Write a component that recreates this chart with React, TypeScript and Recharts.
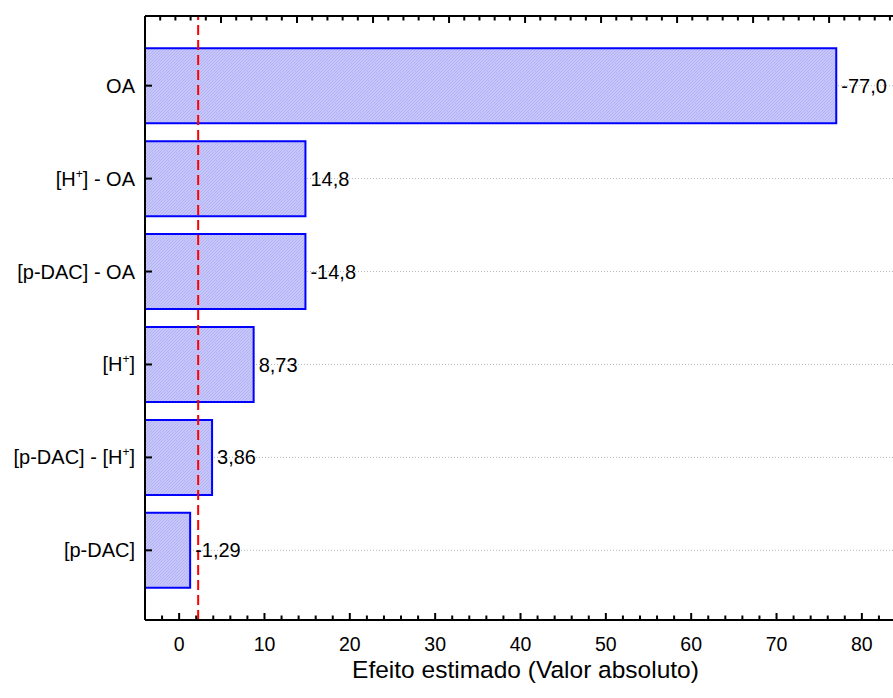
import React from 'react';
import { BarChart, Bar, XAxis, YAxis, CartesianGrid, ReferenceLine, LabelList, Label } from 'recharts';

// Pareto of standardized effects
const factors = ['OA', '[H+] - OA', '[p-DAC] - OA', '[H+]', '[p-DAC] - [H+]', '[p-DAC]'];
const effects = [-77.0, 14.8, -14.8, 8.73, 3.86, -1.29];
const criticalT = 2.23; // p = 0.05 cut-off

const X_MIN = -4;
const X_MAX = 84;
const majorTicks = [0, 10, 20, 30, 40, 50, 60, 70, 80];
const bottomTicks = Array.from({ length: 44 }, (_, i) => X_MIN + i * 2);

// top frame axis runs on its own scale
const TOP_MAX = 9.88;
const topTicks = Array.from({ length: 50 }, (_, i) => i / 5);

// minor ticks on the left frame, between factor rows
const Y_MIN = -0.75;
const Y_MAX = 5.75;
const leftMinor = Array.from({ length: 27 }, (_, i) => Y_MIN + i * 0.25).filter((v) => v % 1 !== 0);

const data = factors.map((name, i) => ({
  name,
  effect: effects[i],
  span: [X_MIN, Math.abs(effects[i])],
}));

const fmt = (v: number) => v.toPrecision(3).replace('.', ',');

const axisColor = '#000';
const font = '"Liberation Sans", Arial, sans-serif';
const MAJOR = 7;
const MINOR = 4.5;

// splits "[H+]" so the plus sign is raised
const renderFactor = (label: string) => {
  const parts = label.split('+');
  const out: React.ReactNode[] = [];
  parts.forEach((p, i) => {
    out.push(
      <tspan key={'t' + i} dy={i > 0 ? 8 : 0}>
        {p}
      </tspan>
    );
    if (i < parts.length - 1) {
      out.push(
        <tspan key={'s' + i} fontSize={12} dy={-8}>
          +
        </tspan>
      );
    }
  });
  return out;
};

const FactorTick = (props: any) => {
  const { x, y, payload } = props;
  return (
    <g>
      <line x1={x} x2={x + MAJOR} y1={y} y2={y} stroke={axisColor} strokeWidth={2} />
      <text x={x - 10} y={y + 7} textAnchor="end" fontSize={20} fill="#000">
        {renderFactor(payload.value)}
      </text>
    </g>
  );
};

const LeftMinorTick = (props: any) => {
  const { x, y } = props;
  return <line x1={x} x2={x + MINOR} y1={y} y2={y} stroke={axisColor} strokeWidth={2} />;
};

const BottomTick = (props: any) => {
  const { x, y, payload } = props;
  const major = majorTicks.includes(payload.value);
  return (
    <g>
      <line x1={x} x2={x} y1={y} y2={y - (major ? MAJOR : MINOR)} stroke={axisColor} strokeWidth={2} />
      {major && (
        <text x={x} y={y + 31} textAnchor="middle" fontSize={19.5} fill="#000">
          {payload.value}
        </text>
      )}
    </g>
  );
};

const TopTick = (props: any) => {
  const { x, y, payload } = props;
  const major = Math.abs(payload.value - Math.round(payload.value)) < 1e-6;
  return <line x1={x} x2={x} y1={y} y2={y + (major ? MAJOR : MINOR)} stroke={axisColor} strokeWidth={2} />;
};

const ValueLabel = (props: any) => {
  const { x, y, width, height, value } = props;
  return (
    <text x={x + width + 5} y={y + height / 2 + 7} fontSize={20} fill="#000">
      {fmt(value)}
    </text>
  );
};

const AxisTitle = (props: any) => {
  const { viewBox } = props;
  return (
    <text x={viewBox.x + viewBox.width / 2 + 5} y={viewBox.y + 58} textAnchor="middle" fontSize={24.5} fill="#000">
      Efeito estimado (Valor absoluto)
    </text>
  );
};

export default function App() {
  return (
    <div style={{ position: 'absolute', left: 0, top: 0, width: 893, height: 698, overflow: 'hidden', background: '#fff', fontFamily: font }}>
      <BarChart
        layout="vertical"
        width={900}
        height={698}
        data={data}
        margin={{ top: 0, right: 4, bottom: 0, left: 0 }}
      >
        <defs>
          <pattern id="hatch" patternUnits="userSpaceOnUse" width={3} height={3}>
            <rect width={3} height={3} fill="#c6c6fc" />
            <path d="M-1,1 l2,-2 M0,3 l3,-3 M2,4 l2,-2" stroke="#aaaaee" strokeWidth={0.7} />
          </pattern>
        </defs>
        <CartesianGrid
          xAxisId="val"
          yAxisId="cat"
          vertical={false}
          stroke="#b8b8b8"
          strokeDasharray="1 2"
        />
        <Bar
          xAxisId="val"
          yAxisId="cat"
          dataKey="span"
          barSize={75}
          fill="url(#hatch)"
          stroke="#0000ff"
          strokeWidth={2}
          isAnimationActive={false}
        >
          <LabelList dataKey="effect" content={<ValueLabel />} />
        </Bar>
        <XAxis
          xAxisId="val"
          type="number"
          domain={[X_MIN, X_MAX]}
          ticks={bottomTicks}
          interval={0}
          height={78}
          tickSize={0}
          tickMargin={0}
          tickLine={false}
          tick={<BottomTick />}
          axisLine={{ stroke: axisColor, strokeWidth: 2 }}
          allowDataOverflow
        >
          <Label content={<AxisTitle />} />
        </XAxis>
        <XAxis
          xAxisId="top"
          orientation="top"
          type="number"
          domain={[0, TOP_MAX]}
          ticks={topTicks}
          interval={0}
          height={16}
          tickSize={0}
          tickMargin={0}
          tickLine={false}
          tick={<TopTick />}
          axisLine={{ stroke: axisColor, strokeWidth: 2 }}
          allowDataOverflow
        />
        <YAxis
          yAxisId="cat"
          type="category"
          dataKey="name"
          width={145}
          interval={0}
          padding={{ top: 23.2, bottom: 23.2 }}
          tickSize={0}
          tickMargin={0}
          tickLine={false}
          tick={<FactorTick />}
          axisLine={{ stroke: axisColor, strokeWidth: 2 }}
        />
        <YAxis
          yAxisId="frame"
          type="number"
          domain={[Y_MIN, Y_MAX]}
          reversed
          ticks={leftMinor}
          interval={0}
          width={0}
          mirror
          tickSize={0}
          tickMargin={0}
          tickLine={false}
          tick={<LeftMinorTick />}
          axisLine={false}
          allowDataOverflow
        />
        <ReferenceLine
          xAxisId="val"
          yAxisId="cat"
          x={criticalT}
          stroke="#ff0000"
          strokeWidth={2}
          strokeDasharray="10 5"
        />
      </BarChart>
    </div>
  );
}
